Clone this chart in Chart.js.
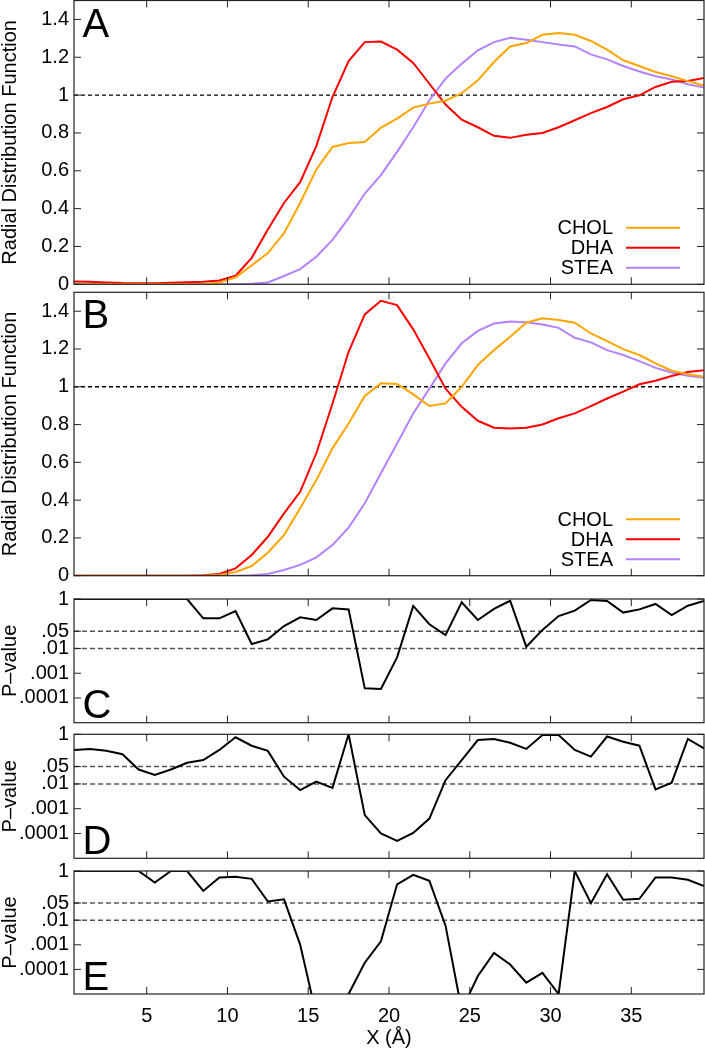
<!DOCTYPE html>
<html>
<head>
<meta charset="utf-8">
<script src="https://cdn.jsdelivr.net/npm/chart.js@4.4.0/dist/chart.umd.min.js"></script>
<style>
  body { margin: 0; background: #fff; }
  #wrap { position: relative; width: 705px; height: 1050px; }
  #wrap canvas { position: absolute; left: 0; top: 0; }
</style>
</head>
<body>
<div id="wrap">
  <canvas id="panelA" width="705" height="1050"></canvas>
  <canvas id="panelB" width="705" height="1050"></canvas>
  <canvas id="panelC" width="705" height="1050"></canvas>
  <canvas id="panelD" width="705" height="1050"></canvas>
  <canvas id="panelE" width="705" height="1050"></canvas>
</div>
<script>
// Distance (Å) at which each value was sampled
const xVals = [0.5, 1.5, 2.5, 3.5, 4.5, 5.5, 6.5, 7.5, 8.5, 9.5,
               10.5, 11.5, 12.5, 13.5, 14.5, 15.5, 16.5, 17.5, 18.5, 19.5,
               20.5, 21.5, 22.5, 23.5, 24.5, 25.5, 26.5, 27.5, 28.5, 29.5,
               30.5, 31.5, 32.5, 33.5, 34.5, 35.5, 36.5, 37.5, 38.5, 39.5];

const xTicks = [5, 10, 15, 20, 25, 30, 35];
const xTickLabels = ['5', '10', '15', '20', '25', '30', '35'];
const rdfTicks = [0, 0.2, 0.4, 0.6, 0.8, 1, 1.2, 1.4];
const rdfTickLabels = ['0', '0.2', '0.4', '0.6', '0.8', '1', '1.2', '1.4'];
const pTicks = [0.0001, 0.001, 0.01, 0.05, 1];
const pTickLabels = ['.0001', '.001', '.01', '.05', '1'];
const rdfRefLevels = [1];
const pRefLevels = [0.05, 0.01];

const seriesNames = ['CHOL', 'DHA', 'STEA'];

// Panel A
const cholA = [0, 0, 0, 0, 0, 0, 0, 0, 0.002, 0.008,
               0.037, 0.10, 0.165, 0.27, 0.43, 0.607, 0.726, 0.747, 0.752, 0.828,
               0.876, 0.934, 0.955, 0.97, 1.01, 1.078, 1.175, 1.257, 1.275, 1.319,
               1.328, 1.319, 1.286, 1.24, 1.184, 1.154, 1.122, 1.10, 1.074, 1.05];
const dhaA = [0.015, 0.014, 0.010, 0.007, 0.006, 0.006, 0.008, 0.011, 0.013, 0.02,
              0.045, 0.14, 0.29, 0.43, 0.54, 0.73, 0.99, 1.18, 1.28, 1.283,
              1.24, 1.17, 1.06, 0.95, 0.87, 0.83, 0.785, 0.774, 0.79, 0.80,
              0.83, 0.867, 0.905, 0.937, 0.978, 0.999, 1.043, 1.07, 1.074, 1.09];
const steaA = [0, 0, 0, 0, 0, 0, 0, 0, 0, 0,
               0, 0.003, 0.01, 0.044, 0.08, 0.146, 0.235, 0.35, 0.48, 0.577,
               0.70, 0.83, 0.973, 1.087, 1.166, 1.237, 1.28, 1.303, 1.293, 1.28,
               1.268, 1.257, 1.215, 1.189, 1.154, 1.125, 1.10, 1.083, 1.057, 1.04];

// Panel B
const cholB = [0, 0, 0, 0, 0, 0, 0, 0, 0, 0.004,
               0.02, 0.051, 0.122, 0.215, 0.357, 0.506, 0.674, 0.806, 0.951, 1.018,
               1.015, 0.96, 0.898, 0.912, 1.0, 1.115, 1.194, 1.265, 1.339, 1.362,
               1.353, 1.339, 1.282, 1.242, 1.199, 1.168, 1.124, 1.085, 1.066, 1.053];
const dhaB = [0, 0, 0, 0, 0, 0, 0, 0, 0.003, 0.009,
              0.039, 0.11, 0.206, 0.33, 0.444, 0.648, 0.91, 1.185, 1.383, 1.455,
              1.432, 1.304, 1.15, 0.99, 0.894, 0.82, 0.783, 0.779, 0.783, 0.80,
              0.833, 0.859, 0.898, 0.938, 0.974, 1.013, 1.032, 1.057, 1.078, 1.088];
const steaB = [0, 0, 0, 0, 0, 0, 0, 0, 0, 0,
               0, 0.003, 0.009, 0.03, 0.057, 0.097, 0.162, 0.255, 0.383, 0.542,
               0.70, 0.859, 0.99, 1.124, 1.23, 1.296, 1.335, 1.346, 1.342, 1.33,
               1.312, 1.259, 1.235, 1.194, 1.168, 1.136, 1.10, 1.076, 1.058, 1.048];

// Panels C, D, E (P-values)
const pValC = [1, 1, 1, 1, 1, 1, 1, 1, 0.166, 0.166,
               0.327, 0.0151, 0.0234, 0.081, 0.182, 0.141, 0.42, 0.38, 0.000245, 0.000229,
               0.00437, 0.525, 0.0955, 0.0347, 0.733, 0.141, 0.398, 0.851, 0.0117, 0.0562,
               0.204, 0.339, 0.912, 0.832, 0.282, 0.38, 0.63, 0.224, 0.537, 0.832];
const pValD = [0.234, 0.257, 0.219, 0.158, 0.038, 0.0229, 0.038, 0.0708, 0.0912, 0.234,
               0.759, 0.347, 0.214, 0.0195, 0.00562, 0.0123, 0.00692, 1, 0.00055, 0.0001,
               0.00005, 0.000105, 0.0004, 0.0141, 0.0912, 0.589, 0.646, 0.457, 0.257, 0.933,
               0.933, 0.234, 0.126, 0.813, 0.501, 0.347, 0.006, 0.0112, 0.646, 0.269];
const pValE = [1, 1, 1, 1, 1, 0.339, 1, 1, 0.155, 0.55,
               0.589, 0.479, 0.0575, 0.0708, 0.00102, 0.0000014, 0.0000003, 0.00001, 0.000186, 0.00138,
               0.288, 0.692, 0.398, 0.006, 0.0000022, 0.000054, 0.000468, 0.000158, 0.000029, 0.000072,
               0.00001, 1, 0.049, 0.741, 0.0676, 0.0741, 0.55, 0.55, 0.437, 0.245];

const colors = { CHOL: '#ffa500', DHA: '#ff0000', STEA: '#b482ff' };
const FONT = '"Liberation Sans", Arial, Helvetica, sans-serif';
Chart.defaults.font.family = FONT;
Chart.defaults.color = '#000';

// frame, inward ticks on all sides, panel letter and legend
const panelDecor = {
    id: 'panelDecor',
    afterDraw(chart, args, opts) {
        const ctx = chart.ctx;
        const a = chart.chartArea;
        const xs = chart.scales.x, ys = chart.scales.y;
        ctx.save();
        ctx.strokeStyle = '#222';
        ctx.lineWidth = 1.2;
        ctx.strokeRect(a.left, a.top, a.right - a.left, a.bottom - a.top);
        ctx.lineWidth = 1;
        ctx.beginPath();
        xTicks.forEach(v => {
            const px = xs.getPixelForValue(v);
            ctx.moveTo(px, a.top); ctx.lineTo(px, a.top + 7);
            ctx.moveTo(px, a.bottom); ctx.lineTo(px, a.bottom - 7);
        });
        opts.yTicks.forEach(v => {
            const py = ys.getPixelForValue(v);
            ctx.moveTo(a.left, py); ctx.lineTo(a.left + 7, py);
            ctx.moveTo(a.right, py); ctx.lineTo(a.right - 7, py);
        });
        ctx.stroke();

        // panel letter
        ctx.fillStyle = '#000';
        ctx.font = '40px ' + FONT;
        ctx.textAlign = 'left';
        ctx.textBaseline = 'alphabetic';
        const ly = opts.letterAtTop ? a.top + 36 : a.bottom - 4.5;
        ctx.fillText(opts.letter, a.left + 8.5, ly);

        // legend
        if (opts.legend) {
            ctx.font = '20px ' + FONT;
            ctx.textAlign = 'right';
            ctx.textBaseline = 'middle';
            ctx.lineWidth = 2;
            seriesNames.forEach((name, i) => {
                const ry = a.bottom - 16.5 - 20 * (seriesNames.length - 1 - i);
                ctx.fillText(name, a.right - 91, ry + 1);
                ctx.strokeStyle = colors[name];
                ctx.beginPath();
                ctx.moveTo(a.right - 78, ry);
                ctx.lineTo(a.right - 24, ry);
                ctx.stroke();
            });
        }
        ctx.restore();
    }
};

function toPoints(values) {
    return xVals.map((x, i) => ({ x: x, y: values[i] }));
}

function refLine(level, color, dash, width) {
    return {
        label: '',
        data: [{ x: xVals[0], y: level }, { x: xVals[xVals.length - 1], y: level }],
        borderColor: color,
        borderWidth: width,
        borderDash: dash,
        pointRadius: 0,
        order: 10
    };
}

// no label-overflow padding, so the plot frame sits exactly where layout.padding says
function noScalePadding(scale) {
    scale.paddingTop = 0;
    scale.paddingBottom = 0;
    scale.paddingLeft = 0;
    scale.paddingRight = 0;
}

function makePanel(id, opts) {
    const datasets = [];
    opts.series.forEach((s, i) => {
        datasets.push({
            label: s.name,
            data: toPoints(s.values),
            borderColor: s.color,
            borderWidth: 2,
            pointRadius: 0,
            tension: 0,
            order: opts.series.length - i
        });
    });
    opts.refs.forEach(level => {
        datasets.push(opts.isP ? refLine(level, '#555', [5, 3], 1.5) : refLine(level, '#000', [4, 3], 1.3));
    });

    const yTickVals = opts.isP ? pTicks : rdfTicks;
    const yTickText = opts.isP ? pTickLabels : rdfTickLabels;

    new Chart(document.getElementById(id), {
        type: 'line',
        data: { datasets: datasets },
        options: {
            responsive: false,
            animation: false,
            events: [],
            layout: { padding: { top: opts.top, bottom: opts.padBottom, left: 0, right: 1 } },
            plugins: {
                legend: { display: false },
                tooltip: { enabled: false },
                panelDecor: {
                    letter: opts.letter,
                    letterAtTop: opts.letterAtTop,
                    legend: !opts.isP,
                    yTicks: yTickVals
                }
            },
            scales: {
                x: {
                    type: 'linear',
                    min: 0.5,
                    max: 39.5,
                    display: opts.showX,
                    grid: { display: false, drawTicks: false },
                    border: { display: false },
                    afterBuildTicks: scale => { scale.ticks = xTicks.map(v => ({ value: v })); },
                    afterFit: scale => {
                        noScalePadding(scale);
                        if (opts.showX) scale.height = 56;
                    },
                    ticks: {
                        autoSkip: false,
                        maxRotation: 0,
                        padding: 10,
                        font: { size: 20 },
                        callback: (v, i) => xTickLabels[i]
                    },
                    title: {
                        display: true,
                        text: 'X (Å)',
                        font: { size: 20, lineHeight: 1.2 },
                        padding: 0
                    }
                },
                y: {
                    type: opts.isP ? 'logarithmic' : 'linear',
                    min: opts.isP ? 0.00001 : 0,
                    max: opts.isP ? 1 : 1.5,
                    grid: { display: false, drawTicks: false },
                    border: { display: false },
                    afterBuildTicks: scale => { scale.ticks = yTickVals.map(v => ({ value: v })); },
                    afterFit: scale => {
                        noScalePadding(scale);
                        scale.width = 74;
                    },
                    ticks: {
                        autoSkip: false,
                        padding: 5,
                        font: { size: 20 },
                        callback: (v, i) => yTickText[i]
                    },
                    title: {
                        display: true,
                        text: opts.isP ? 'P–value' : 'Radial Distribution Function',
                        font: { size: 20, lineHeight: 1.05 },
                        padding: 0
                    }
                }
            }
        },
        plugins: [panelDecor]
    });
}

function rdfSeries(chol, dha, stea) {
    return [
        { name: 'STEA', values: stea, color: colors.STEA },
        { name: 'DHA', values: dha, color: colors.DHA },
        { name: 'CHOL', values: chol, color: colors.CHOL }
    ];
}

makePanel('panelA', { top: 0.5, padBottom: 1050 - 284.3, showX: false, isP: false,
    letter: 'A', letterAtTop: true, series: rdfSeries(cholA, dhaA, steaA), refs: rdfRefLevels });
makePanel('panelB', { top: 292.3, padBottom: 1050 - 575.7, showX: false, isP: false,
    letter: 'B', letterAtTop: true, series: rdfSeries(cholB, dhaB, steaB), refs: rdfRefLevels });
makePanel('panelC', { top: 599, padBottom: 1050 - 722.7, showX: false, isP: true,
    letter: 'C', letterAtTop: false, series: [{ name: 'C', values: pValC, color: '#000' }], refs: pRefLevels });
makePanel('panelD', { top: 734.3, padBottom: 1050 - 858.3, showX: false, isP: true,
    letter: 'D', letterAtTop: false, series: [{ name: 'D', values: pValD, color: '#000' }], refs: pRefLevels });
makePanel('panelE', { top: 871, padBottom: 0, showX: true, isP: true,
    letter: 'E', letterAtTop: false, series: [{ name: 'E', values: pValE, color: '#000' }], refs: pRefLevels });
</script>
</body>
</html>
